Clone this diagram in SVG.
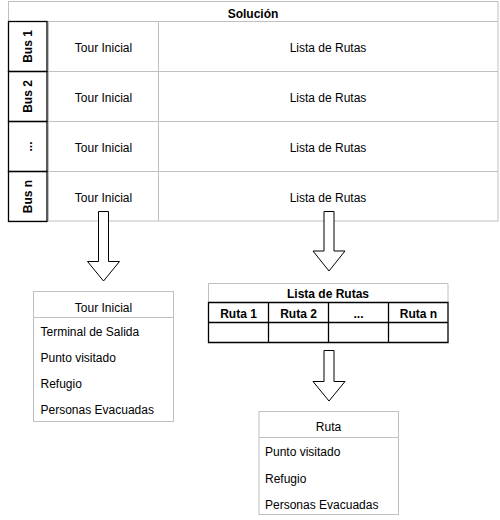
<svg xmlns="http://www.w3.org/2000/svg" width="500" height="520" viewBox="0 0 500 520">
<style>
text{font-family:"Liberation Sans",Arial,sans-serif;font-size:12px;fill:#000}
.b{font-weight:bold}
.m{text-anchor:middle}
.g{fill:#fff;stroke:#c0c0c0;stroke-width:1}
.k{fill:none;stroke:#000;stroke-width:1.3}
.gl{stroke:#c0c0c0;stroke-width:1;fill:none}
.arr{fill:#fff;stroke:#000;stroke-width:1}
</style>
<rect width="500" height="520" fill="#fff"/>
<g id="solucion">
<rect class="g" x="8.5" y="1.5" width="489.5" height="219.5"/>
<line class="gl" x1="8.5" y1="21.5" x2="498" y2="21.5"/>
<line class="gl" x1="48.5" y1="21.5" x2="48.5" y2="221"/>
<line class="gl" x1="158.5" y1="21.5" x2="158.5" y2="221"/>
<line class="gl" x1="48" y1="71.5" x2="498" y2="71.5"/>
<line class="gl" x1="48" y1="121.5" x2="498" y2="121.5"/>
<line class="gl" x1="48" y1="171.5" x2="498" y2="171.5"/>
<text class="b m" x="253" y="17.5">Solución</text>
</g>
<g id="bus1">
<rect class="k" x="8.5" y="21.5" width="38.5" height="50"/>
<text class="b m" transform="translate(32 46.5) rotate(-90)">Bus 1</text>
<text class="m" x="103.5" y="51.5">Tour Inicial</text>
<text class="m" x="328" y="51.5">Lista de Rutas</text>
</g>
<g id="bus2">
<rect class="k" x="8.5" y="71.5" width="38.5" height="50"/>
<text class="b m" transform="translate(32 96.5) rotate(-90)">Bus 2</text>
<text class="m" x="103.5" y="101.5">Tour Inicial</text>
<text class="m" x="328" y="101.5">Lista de Rutas</text>
</g>
<g id="busdots">
<rect class="k" x="8.5" y="121.5" width="38.5" height="50"/>
<text class="b m" transform="translate(32 146.5) rotate(-90)">...</text>
<text class="m" x="103.5" y="151.5">Tour Inicial</text>
<text class="m" x="328" y="151.5">Lista de Rutas</text>
</g>
<g id="busn">
<rect class="k" x="8.5" y="171.5" width="38.5" height="50"/>
<text class="b m" transform="translate(32 196.5) rotate(-90)">Bus n</text>
<text class="m" x="103.5" y="201.5">Tour Inicial</text>
<text class="m" x="328" y="201.5">Lista de Rutas</text>
</g>
<g id="connectors">
<path class="arr" d="M98.5 211.5 H108.5 V261.5 H119.5 L103.5 281 L87.5 261.5 H98.5 Z"/>
<path class="arr" d="M324 211.5 H334 V251 H345 L329 271 L313 251 H324 Z"/>
<path class="arr" d="M324 350.5 H334 V381.5 H345 L329 401 L313 381.5 H324 Z"/>
</g>
<g id="tourinicial">
<rect class="g" x="33.5" y="291.5" width="140" height="130"/>
<line class="gl" x1="33.5" y1="317.5" x2="173.5" y2="317.5"/>
<text class="m" x="103.5" y="311.5">Tour Inicial</text>
<text x="40.5" y="336">Terminal de Salida</text>
<text x="40.5" y="362">Punto visitado</text>
<text x="40.5" y="388">Refugio</text>
<text x="40.5" y="414">Personas Evacuadas</text>
</g>
<g id="listaderutas">
<rect fill="#fff" x="208.5" y="283.5" width="239.5" height="59.5"/>
<path class="gl" d="M208.5 303 V283.5 H448 V303"/>
<path class="k" d="M208.5 302.5 H448 V342.5 H208.5 Z M208.5 322.5 H448 M268.5 302.5 V342.5 M328.5 302.5 V342.5 M388.5 302.5 V342.5"/>
<text class="b m" x="328" y="298">Lista de Rutas</text>
<text class="b m" x="238.5" y="317.5">Ruta 1</text>
<text class="b m" x="298.5" y="317.5">Ruta 2</text>
<text class="b m" x="358.5" y="317.5">...</text>
<text class="b m" x="418.5" y="317.5">Ruta n</text>
</g>
<g id="ruta">
<rect class="g" x="259" y="411.5" width="139.5" height="103"/>
<line class="gl" x1="259" y1="437.5" x2="398.5" y2="437.5"/>
<text class="m" x="328.5" y="431">Ruta</text>
<text x="265" y="456">Punto visitado</text>
<text x="265" y="482.5">Refugio</text>
<text x="265" y="508.5">Personas Evacuadas</text>
</g>
</svg>
